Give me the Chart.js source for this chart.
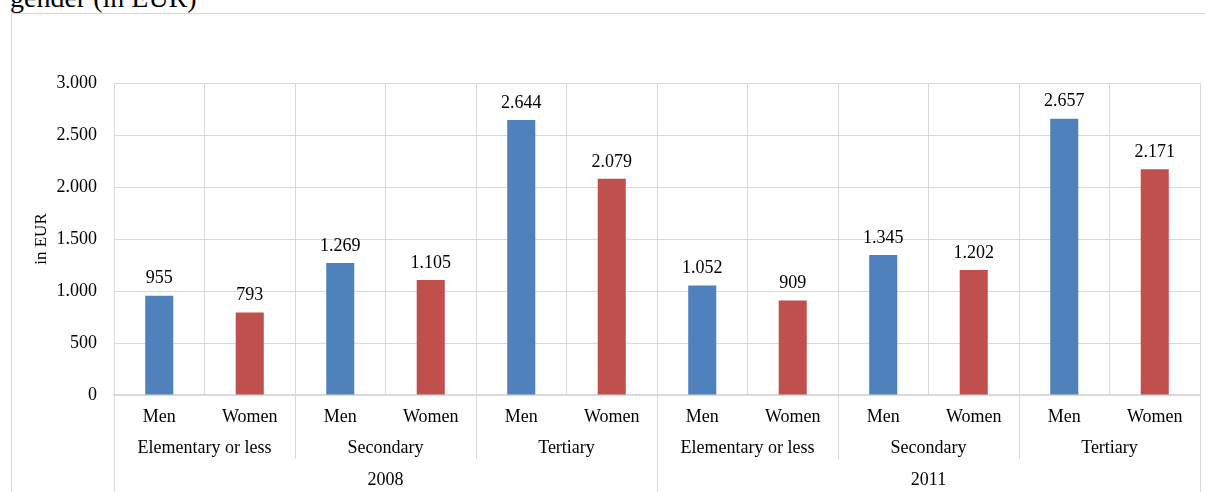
<!DOCTYPE html>
<html>
<head>
<meta charset="utf-8">
<script src="https://cdn.jsdelivr.net/npm/chart.js@4/dist/chart.umd.min.js"></script>
<style>
  html, body { margin: 0; padding: 0; background: #fff; overflow: hidden; }
  #wrap { position: relative; width: 1205px; height: 492px; overflow: hidden; }
  #frame { position: absolute; left: 11px; top: 13px; width: 1400px; height: 700px; border: 1px solid #d9d9d9; box-sizing: border-box; }
  #title { position: absolute; left: 10px; top: -18px; font: 28px "Liberation Serif", "DejaVu Serif", serif; color: #000; white-space: nowrap; }
  canvas { position: absolute; left: 0; top: 0; }
</style>
</head>
<body>
<div id="wrap">
  <div id="frame"></div>
  <div id="title">gender (in EUR)</div>
  <canvas id="c" width="1205" height="492"></canvas>
</div>
<script>
// Average monthly earnings by education and gender, two survey years
const years = ['2008', '2011'];
const educationLevels = ['Elementary or less', 'Secondary', 'Tertiary'];
const genders = ['Men', 'Women'];
const menValues = [955, 1269, 2644, 1052, 1345, 2657];
const womenValues = [793, 1105, 2079, 909, 1202, 2171];
const yTicks = [0, 500, 1000, 1500, 2000, 2500, 3000];

const BLUE = '#4F81BD';
const RED = '#C0504D';
const GRID = '#d9d9d9';
const FONT = '"Liberation Serif", "Times New Roman", serif';
const FS = 18;

// One category per (year, education, gender)
const labels = [];
const menData = [];
const womenData = [];
let k = 0;
years.forEach(() => {
  educationLevels.forEach(() => {
    genders.forEach(g => {
      labels.push(g);
      if (g === 'Men') { menData.push(menValues[k]); womenData.push(null); }
      else { menData.push(null); womenData.push(womenValues[k]); }
    });
    k++;
  });
});

const fmt = v => String(v).replace(/\B(?=(\d{3})+(?!\d))/g, '.');

const groupAxis = {
  id: 'groupAxis',
  afterDraw(chart) {
    const ctx = chart.ctx;
    const x = chart.scales.x;
    const area = chart.chartArea;
    const n = labels.length;
    const half = (x.getPixelForValue(1) - x.getPixelForValue(0)) / 2;
    const edge = i => (i === n ? x.getPixelForValue(n - 1) + half : x.getPixelForValue(i) - half);
    ctx.save();
    ctx.strokeStyle = GRID;
    ctx.lineWidth = 1;
    // education group separators
    for (let i = 0; i <= n; i += genders.length) {
      const isYear = i % (genders.length * educationLevels.length) === 0;
      const px = Math.round(edge(i)) + 0.5;
      ctx.beginPath();
      ctx.moveTo(px, area.bottom);
      ctx.lineTo(px, isYear ? 492 : 459);
      ctx.stroke();
    }
    ctx.fillStyle = '#000';
    ctx.textAlign = 'center';
    ctx.textBaseline = 'middle';
    ctx.font = FS + 'px ' + FONT;
    // education labels
    let idx = 0;
    years.forEach(() => {
      educationLevels.forEach(ed => {
        const cx = (edge(idx) + edge(idx + genders.length)) / 2;
        ctx.fillText(ed, cx, 448);
        idx += genders.length;
      });
    });
    // year labels
    const span = genders.length * educationLevels.length;
    years.forEach((yr, j) => {
      const cx = (edge(j * span) + edge((j + 1) * span)) / 2;
      ctx.fillText(yr, cx, 480);
    });
    // y axis title
    ctx.translate(42, (area.top + area.bottom) / 2);
    ctx.rotate(-Math.PI / 2);
    ctx.font = '17px ' + FONT;
    ctx.fillText('in EUR', 0, 0);
    ctx.restore();

    // value labels above bars
    ctx.save();
    ctx.fillStyle = '#000';
    ctx.textAlign = 'center';
    ctx.textBaseline = 'middle';
    ctx.font = FS + 'px ' + FONT;
    chart.data.datasets.forEach((ds, di) => {
      chart.getDatasetMeta(di).data.forEach((el, i) => {
        const v = ds.data[i];
        if (v == null) return;
        ctx.fillText(fmt(v), el.x, el.y - 17);
      });
    });
    ctx.restore();
  }
};

new Chart(document.getElementById('c'), {
  type: 'bar',
  data: {
    labels,
    datasets: [
      { label: 'Men', data: menData, backgroundColor: BLUE, borderWidth: 0 },
      { label: 'Women', data: womenData, backgroundColor: RED, borderWidth: 0 }
    ]
  },
  options: {
    responsive: false,
    animation: false,
    skipNull: true,
    barPercentage: 0.31,
    categoryPercentage: 1,
    layout: { padding: { top: 83, right: 5, left: 0, bottom: 0 } },
    plugins: { legend: { display: false }, tooltip: { enabled: false } },
    scales: {
      x: {
        offset: true,
        grid: { color: GRID, drawTicks: false, offset: true },
        border: { color: GRID, width: 2 },
        ticks: { color: '#000', font: { family: FONT, size: FS }, padding: 11, maxRotation: 0, autoSkip: false },
        afterFit: s => { s.height = 97; }
      },
      y: {
        min: 0, max: 3000,
        afterBuildTicks: s => { s.ticks = yTicks.map(v => ({ value: v })); },
        grid: { color: GRID, drawTicks: false },
        border: { display: false },
        ticks: { color: '#000', font: { family: FONT, size: FS }, padding: 17, callback: v => fmt(v) },
        afterFit: s => { s.width = 114; }
      }
    }
  },
  plugins: [groupAxis]
});
</script>
</body>
</html>
